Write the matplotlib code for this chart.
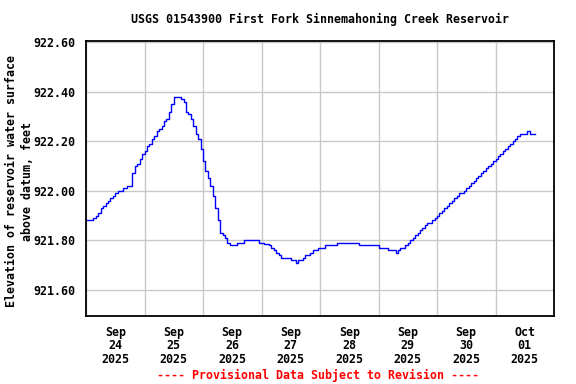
import matplotlib
matplotlib.use("Agg")
import matplotlib.pyplot as plt
import matplotlib.dates as mdates
import pandas as pd

# --- data: hourly reservoir elevation (ft), starting 2025-09-24 00:00 ---
start_time = "2025-09-24 00:00"
elev_sep24 = [921.88, 921.88, 921.88, 921.89, 921.90, 921.91, 921.93, 921.94,
              921.95, 921.96, 921.97, 921.98, 921.99, 922.00, 922.00, 922.01,
              922.01, 922.02, 922.02, 922.07, 922.10, 922.11, 922.13, 922.15]
elev_sep25 = [922.16, 922.18, 922.19, 922.21, 922.22, 922.24, 922.25, 922.26,
              922.28, 922.29, 922.32, 922.35, 922.38, 922.38, 922.38, 922.37,
              922.36, 922.32, 922.31, 922.29, 922.26, 922.23, 922.21, 922.17]
elev_sep26 = [922.12, 922.08, 922.05, 922.02, 921.98, 921.93, 921.88, 921.83,
              921.82, 921.81, 921.79, 921.78, 921.78, 921.78, 921.79, 921.79,
              921.79, 921.80, 921.80, 921.80, 921.80, 921.80, 921.80, 921.79]
elev_sep27 = [921.79, 921.785, 921.785, 921.78, 921.77, 921.76, 921.75, 921.74,
              921.73, 921.73, 921.73, 921.73, 921.72, 921.72, 921.71, 921.72,
              921.72, 921.73, 921.74, 921.74, 921.75, 921.76, 921.76, 921.77]
elev_sep28 = [921.77, 921.77, 921.78, 921.78, 921.78, 921.78, 921.78, 921.79,
              921.79, 921.79, 921.79, 921.79, 921.79, 921.79, 921.79, 921.79,
              921.78, 921.78, 921.78, 921.78, 921.78, 921.78, 921.78, 921.78]
elev_sep29 = [921.77, 921.77, 921.77, 921.77, 921.76, 921.76, 921.76, 921.75,
              921.76, 921.77, 921.77, 921.78, 921.79, 921.80, 921.81, 921.82,
              921.83, 921.84, 921.85, 921.86, 921.87, 921.87, 921.88, 921.89]
elev_sep30 = [921.90, 921.91, 921.92, 921.93, 921.94, 921.95, 921.96, 921.97,
              921.98, 921.99, 921.99, 922.00, 922.01, 922.02, 922.03, 922.04,
              922.05, 922.06, 922.07, 922.08, 922.09, 922.10, 922.11, 922.12]
elev_oct01 = [922.13, 922.14, 922.15, 922.16, 922.17, 922.18, 922.19, 922.20,
              922.21, 922.22, 922.23, 922.23, 922.23, 922.24, 922.23, 922.23,
              922.23]

y_ticks = [921.60, 921.80, 922.00, 922.20, 922.40, 922.60]

elev = (elev_sep24 + elev_sep25 + elev_sep26 + elev_sep27 +
        elev_sep28 + elev_sep29 + elev_sep30 + elev_oct01)
times = pd.date_range(start_time, periods=len(elev), freq="h")

# bold monospace everywhere, like the USGS graphs
plt.rcParams["font.family"] = "DejaVu Sans Mono"
plt.rcParams["font.weight"] = "bold"
plt.rcParams["font.size"] = 8.4

fig = plt.figure(figsize=(5.76, 3.84), dpi=100)
ax = fig.add_axes([86 / 576, 1 - 316 / 384, 468 / 576, 275 / 384])

ax.plot(times, elev, color="#0000ff", lw=1.0, drawstyle="steps-post")

ax.set_xlim(pd.Timestamp("2025-09-24"), pd.Timestamp("2025-10-02"))
ax.set_ylim(921.494, 922.605)

# gridlines at midnight, labels at noon
ax.xaxis.set_major_locator(mdates.DayLocator())
ax.xaxis.set_major_formatter(plt.NullFormatter())
ax.xaxis.set_minor_locator(mdates.HourLocator(byhour=[12]))
ax.xaxis.set_minor_formatter(mdates.DateFormatter("%b\n%d\n%Y"))
ax.tick_params(axis="x", which="both", length=0, pad=7)

ax.set_yticks(y_ticks)
ax.set_yticklabels([f"{v:.2f}" for v in y_ticks])
ax.tick_params(axis="y", length=0, pad=8)

ax.grid(True, which="major", color="#c8c8c8", lw=1)
ax.set_axisbelow(True)
for s in ax.spines.values():
    s.set_linewidth(1.3)

fig.text(320 / 576, 1 - 19 / 384,
         "USGS 01543900 First Fork Sinnemahoning Creek Reservoir",
         ha="center", va="center")
fig.text(19.5 / 576, 1 - 181 / 384,
         "Elevation of reservoir water surface\nabove datum, feet",
         ha="center", va="center", rotation=90, multialignment="center",
         linespacing=1.3)
fig.text(318 / 576, 1 - 375 / 384,
         "---- Provisional Data Subject to Revision ----",
         ha="center", va="center", color="red")

# tighten the three-line date labels
fig.canvas.draw()
for lab in ax.xaxis.get_minorticklabels():
    lab.set_linespacing(1.05)

fig.savefig("out.png", dpi=100)
